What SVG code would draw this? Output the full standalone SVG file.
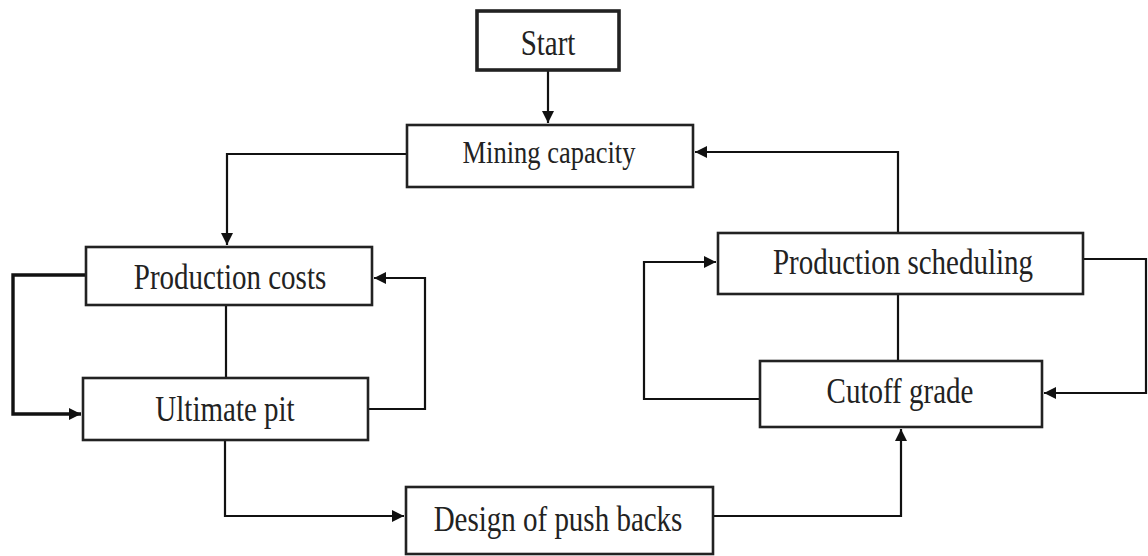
<svg xmlns="http://www.w3.org/2000/svg" width="1148" height="556" viewBox="0 0 1148 556">
<style>
.box{fill:#fff;stroke:#222;stroke-width:2.6}
.lbl{font-family:"Liberation Serif","Times New Roman",serif;font-size:29px;fill:#222;text-anchor:middle}
.c{fill:none;stroke:#111;stroke-width:2.2}
</style>
<defs>
<marker id="ah" markerUnits="userSpaceOnUse" markerWidth="14" markerHeight="12" refX="12" refY="6" orient="auto">
<path d="M0,0 L12,6 L0,12 z" fill="#111"/>
</marker>
</defs>
<rect width="1148" height="556" fill="#fff"/>
<g id="connectors">
<path class="c" d="M548,70 V123" marker-end="url(#ah)"/>
<path class="c" d="M407,154 H227 V245" marker-end="url(#ah)"/>
<path class="c" d="M898,233 V152 H695" marker-end="url(#ah)"/>
<path class="c" d="M86,275 H13 V414 H81" style="stroke-width:3.4" marker-end="url(#ah)"/>
<path class="c" d="M368,409 H425 V278 H374" marker-end="url(#ah)"/>
<path class="c" d="M226,305 V378"/>
<path class="c" d="M225,441 V516 H404" marker-end="url(#ah)"/>
<path class="c" d="M713,516 H901 V429" marker-end="url(#ah)"/>
<path class="c" d="M898,294 V361"/>
<path class="c" d="M760,399 H644 V262 H716" marker-end="url(#ah)"/>
<path class="c" d="M1083,259 H1146 V393 H1044" marker-end="url(#ah)"/>
</g>
<g id="start">
<rect class="box" x="477" y="11" width="142" height="59" style="stroke-width:3.6"/>
<text class="lbl" transform="translate(548,55) scale(1,1.2)">Start</text>
</g>
<g id="mining-capacity">
<rect class="box" x="407" y="125" width="286" height="62"/>
<text class="lbl" transform="translate(549,163) scale(1,1.2)" style="font-size:26.5px">Mining capacity</text>
</g>
<g id="production-costs">
<rect class="box" x="86" y="247" width="286" height="58"/>
<text class="lbl" transform="translate(230,289) scale(1,1.2)">Production costs</text>
</g>
<g id="ultimate-pit">
<rect class="box" x="83" y="378" width="285" height="62"/>
<text class="lbl" transform="translate(225,421) scale(1,1.2)">Ultimate pit</text>
</g>
<g id="design-push-backs">
<rect class="box" x="406" y="487" width="307" height="67"/>
<text class="lbl" transform="translate(558,531) scale(1,1.2)">Design of push backs</text>
</g>
<g id="production-scheduling">
<rect class="box" x="718" y="233" width="365" height="61"/>
<text class="lbl" transform="translate(903,274) scale(1,1.2)">Production scheduling</text>
</g>
<g id="cutoff-grade">
<rect class="box" x="760" y="361" width="282" height="66"/>
<text class="lbl" transform="translate(900,403) scale(1,1.2)">Cutoff grade</text>
</g>
</svg>
